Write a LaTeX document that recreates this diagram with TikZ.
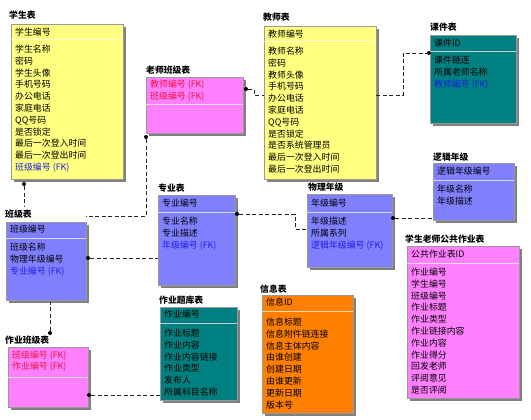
\documentclass[tikz,border=0pt]{standalone}
\usepackage{fontspec}
\setmainfont{Noto Sans CJK SC}
\usetikzlibrary{shadows}
\definecolor{entY}{HTML}{FFFF80}
\definecolor{entP}{HTML}{FF80FF}
\definecolor{entB}{HTML}{8080FF}
\definecolor{entT}{HTML}{008080}
\definecolor{entO}{HTML}{FF8000}
\definecolor{fkB}{HTML}{1E1EE6}
\definecolor{fkR}{HTML}{F0103C}
\begin{document}
\begin{tikzpicture}[x=1pt,y=-1pt,
  tit/.style={anchor=base west,inner sep=0pt,font=\fontsize{8.8}{10}\selectfont\bfseries},
  ent/.style={anchor=north west,draw=black!40,line width=0.3pt,inner sep=0pt,
    general shadow={fill=black!50,shadow xshift=3pt,shadow yshift=-3pt}},
  fld/.style={anchor=base west,inner sep=0pt,font=\fontsize{8.9}{10}\selectfont},
  sep/.style={draw=white,draw opacity=0.7,line width=1pt},
  rel/.style={draw=black!85,line width=0.6pt,dash pattern=on 4pt off 2.5pt},
  dot/.style={circle,fill=black,inner sep=0pt,minimum size=4pt}]
  \fill[white] (0,0) rectangle (531,420);
  \useasboundingbox (0,0) rectangle (531,420);

  % 学生表
  \node[tit] (xs-t) at (9,19) {学生表};
  \node[ent,fill=entY,minimum width=112pt,minimum height=155pt] (xs) at (11,24) {};
  \node[fld] (xs-k) at (15,35.5) {学生编号};
  \draw[sep] (xs.west |- 0,40) -- (xs.east |- 0,40);
  \foreach \t [count=\i] in {学生名称,密码,学生头像,手机号码,办公电话,家庭电话,QQ号码,是否锁定,
    最后一次登入时间,最后一次登出时间,{\color{fkB}班级编号 (FK)}}
    \node[fld] (xs-\i) at (15,{52.5+(\i-1)*11.8}) {\t};

  % 教师表
  \node[tit] (js-t) at (263,21) {教师表};
  \node[ent,fill=entY,minimum width=112pt,minimum height=153pt] (js) at (264,26) {};
  \node[fld] (js-k) at (268,37.5) {教师编号};
  \draw[sep] (js.west |- 0,42) -- (js.east |- 0,42);
  \foreach \t [count=\i] in {教师名称,密码,教师头像,手机号码,办公电话,家庭电话,QQ号码,是否锁定,
    是否系统管理员,最后一次登入时间,最后一次登出时间}
    \node[fld] (js-\i) at (268,{54.5+(\i-1)*11.8}) {\t};

  % 老师班级表
  \node[tit] (lsbj-t) at (146,74) {老师班级表};
  \node[ent,fill=entP,minimum width=97pt,minimum height=56pt] (lsbj) at (146,77) {};
  \node[fld,text=fkR] (lsbj-k1) at (150,87.5) {教师编号 (FK)};
  \node[fld,text=fkR] (lsbj-k2) at (150,99.3) {班级编号 (FK)};
  \draw[sep] (lsbj.west |- 0,105) -- (lsbj.east |- 0,105);

  % 课件表
  \node[tit] (kj-t) at (430,31) {课件表};
  \node[ent,fill=entT,minimum width=86pt,minimum height=88pt] (kj) at (430,35) {};
  \node[fld] (kj-k) at (434,46.5) {课件ID};
  \draw[sep] (kj.west |- 0,52) -- (kj.east |- 0,52);
  \foreach \t [count=\i] in {课件链连,所属老师名称,{\color{fkB}教师编号 (FK)}}
    \node[fld] (kj-\i) at (434,{64+(\i-1)*11.8}) {\t};

  % 班级表
  \node[tit] (bj-t) at (5,217) {班级表};
  \node[ent,fill=entB,minimum width=80pt,minimum height=78pt] (bj) at (6,222) {};
  \node[fld] (bj-k) at (10,232.5) {班级编号};
  \draw[sep] (bj.west |- 0,238) -- (bj.east |- 0,238);
  \foreach \t [count=\i] in {班级名称,物理年级编号,{\color{fkB}专业编号 (FK)}}
    \node[fld] (bj-\i) at (10,{250.5+(\i-1)*11.8}) {\t};

  % 专业表
  \node[tit] (zy-t) at (158,192) {专业表};
  \node[ent,fill=entB,minimum width=77pt,minimum height=90pt] (zy) at (158,195) {};
  \node[fld] (zy-k) at (162,206.5) {专业编号};
  \draw[sep] (zy.west |- 0,212) -- (zy.east |- 0,212);
  \foreach \t [count=\i] in {专业名称,专业描述,{\color{fkB}年级编号 (FK)}}
    \node[fld] (zy-\i) at (162,{224.5+(\i-1)*11.8}) {\t};

  % 物理年级
  \node[tit] (wl-t) at (308,190) {物理年级};
  \node[ent,fill=entB,minimum width=85pt,minimum height=73pt] (wl) at (307,194) {};
  \node[fld] (wl-k) at (311,206.5) {年级编号};
  \draw[sep] (wl.west |- 0,212) -- (wl.east |- 0,212);
  \foreach \t [count=\i] in {年级描述,所属系列,{\color{fkB}逻辑年级编号 (FK)}}
    \node[fld] (wl-\i) at (311,{224.5+(\i-1)*11.8}) {\t};

  % 逻辑年级
  \node[tit] (lj-t) at (433,160.5) {逻辑年级};
  \node[ent,fill=entB,minimum width=81pt,minimum height=57pt] (lj) at (433,163) {};
  \node[fld] (lj-k) at (437,174.5) {逻辑年级编号};
  \draw[sep] (lj.west |- 0,180) -- (lj.east |- 0,180);
  \foreach \t [count=\i] in {年级名称,年级描述}
    \node[fld] (lj-\i) at (437,{193+(\i-1)*11.8}) {\t};

  % 学生老师公共作业表
  \node[tit] (gg-t) at (405,242) {学生老师公共作业表};
  \node[ent,fill=entP,minimum width=112pt,minimum height=152pt] (gg) at (407,246) {};
  \node[fld] (gg-k) at (411,257.5) {公共作业表ID};
  \draw[sep] (gg.west |- 0,263) -- (gg.east |- 0,263);
  \foreach \t [count=\i] in {作业编号,学生编号,班级编号,作业标题,作业类型,作业链接内容,作业内容,
    作业得分,回发老师,评阅意见,是否评阅}
    \node[fld] (gg-\i) at (411,{275.5+(\i-1)*11.8}) {\t};

  % 作业班级表
  \node[tit] (zybj-t) at (5,343) {作业班级表};
  \node[ent,fill=entP,minimum width=80pt,minimum height=60pt] (zybj) at (8,347) {};
  \node[fld,text=fkR] (zybj-k1) at (12,358) {班级编号 (FK)};
  \node[fld,text=fkR] (zybj-k2) at (12,369.8) {作业编号 (FK)};
  \draw[sep] (zybj.west |- 0,377) -- (zybj.east |- 0,377);

  % 作业题库表
  \node[tit] (zytk-t) at (159,303) {作业题库表};
  \node[ent,fill=entT,minimum width=77pt,minimum height=93pt] (zytk) at (160,307) {};
  \node[fld] (zytk-k) at (164,317.5) {作业编号};
  \draw[sep] (zytk.west |- 0,323) -- (zytk.east |- 0,323);
  \foreach \t [count=\i] in {作业标题,作业内容,作业内容链接,作业类型,发布人,所属科目名称}
    \node[fld] (zytk-\i) at (164,{336.5+(\i-1)*11.8}) {\t};

  % 信息表
  \node[tit] (xx-t) at (260,292) {信息表};
  \node[ent,fill=entO,minimum width=91pt,minimum height=118pt] (xx) at (262,295) {};
  \node[fld] (xx-k) at (266,305.5) {信息ID};
  \draw[sep] (xx.west |- 0,311) -- (xx.east |- 0,311);
  \foreach \t [count=\i] in {信息标题,信息附件链连接,信息主体内容,由谁创建,创建日期,由谁更新,
    更新日期,版本号}
    \node[fld] (xx-\i) at (266,{325.5+(\i-1)*11.8}) {\t};

  % relationships
  \node[dot] (xs-d) at (24,184) {};
  \coordinate (bj-n) at (24,207);
  \draw[rel] (xs-d) -- (bj-n);
  \node[dot] (lsbj-d1) at (246,89) {};
  \coordinate (js-w) at (264,95);
  \draw[rel] (lsbj-d1) -- ++(8,0) |- (js-w);
  \coordinate (js-e) at (376,95);
  \node[dot] (kj-d) at (429,53) {};
  \draw[rel] (js-e) -- ++(27,0) |- (kj-d);
  \node[dot] (lsbj-d2) at (146,137) {};
  \coordinate (bj-ne) at (86,216);
  \draw[rel] (lsbj-d2) |- (bj-ne);
  \node[dot] (bj-d) at (88,258) {};
  \coordinate (zy-w) at (158,258);
  \draw[rel] (bj-d) -- (zy-w);
  \node[dot] (zy-d) at (237,214) {};
  \coordinate (wl-w) at (307,229);
  \draw[rel] (zy-d) -- ++(58,0) |- (wl-w);
  \node[dot] (wl-d) at (393,218) {};
  \coordinate (lj-w) at (433,218);
  \draw[rel] (wl-d) -- (lj-w);
  \node[dot] (zybj-d1) at (50,333) {};
  \coordinate (bj-s) at (50,302);
  \draw[rel] (zybj-d1) -- (bj-s);
  \node[dot] (zybj-d2) at (89,395) {};
  \coordinate (zytk-w) at (160,395);
  \draw[rel] (zybj-d2) -- (zytk-w);
\end{tikzpicture}
\end{document}
